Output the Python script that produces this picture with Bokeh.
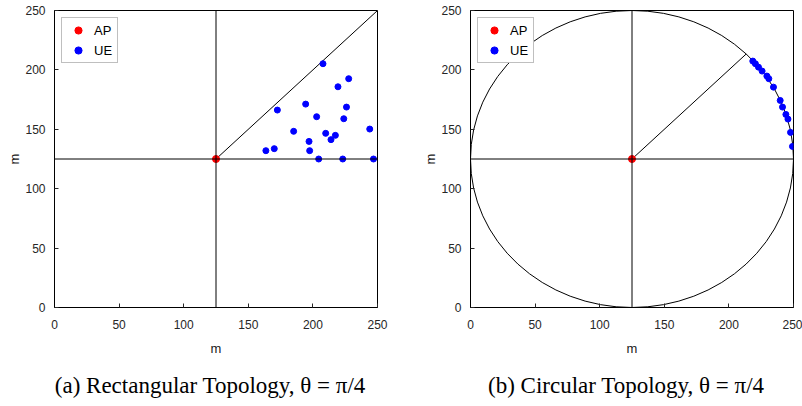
import math
from bokeh.plotting import figure
from bokeh.layouts import row
from bokeh.models import Span, Title, Legend, LegendItem, FixedTicker, Range1d
from bokeh.embed import file_html
from bokeh.resources import INLINE

# ---- data ----
ap_x = [125]
ap_y = [125]

rect_ue_x = [207.8, 227.7, 219.4, 172.5, 194.4, 226.0, 202.9, 223.9, 185.1, 244.0,
             209.9, 217.4, 214.0, 197.0, 163.6, 170.1, 197.5, 204.5, 223.1, 246.9]
rect_ue_y = [205.2, 192.6, 185.8, 166.2, 171.2, 168.7, 160.6, 158.9, 148.3, 150.2,
             146.6, 144.9, 141.3, 139.8, 132.0, 133.7, 132.0, 125.0, 125.0, 125.0]

circ_ue_x = [218.5, 220.5, 222.9, 225.7, 229.4, 230.9, 234.5, 239.7, 241.5, 244.1, 245.7, 247.7, 249.2]
circ_ue_y = [207.4, 205.2, 202.3, 199.0, 194.8, 192.6, 185.5, 174.3, 168.7, 162.5, 158.6, 147.4, 135.6]

area_size = 250
radius = 125
theta = math.pi / 4
ticks = [0, 50, 100, 150, 200, 250]
captions = ["(a) Rectangular Topology, \u03b8  =  \u03c0/4", "(b) Circular Topology, \u03b8  =  \u03c0/4"]

TICK_FONT = "Liberation Sans"


def style(p):
    p.grid.visible = False
    p.outline_line_color = "black"
    p.outline_line_width = 1
    for ax in p.axis:
        ax.ticker = FixedTicker(ticks=ticks)
        ax.major_tick_in = 4
        ax.major_tick_out = 0
        ax.minor_tick_line_color = None
        ax.axis_line_color = "black"
        ax.major_tick_line_color = "#262626"
        ax.major_label_text_font = TICK_FONT
        ax.major_label_text_font_size = "12px"
        ax.major_label_text_color = "#262626"
        ax.axis_label = "m"
        ax.axis_label_text_font = TICK_FONT
        ax.axis_label_text_font_size = "13px"
        ax.axis_label_text_font_style = "normal"
        ax.axis_label_text_color = "#202020"
    p.xaxis.major_label_standoff = 12
    p.yaxis.major_label_standoff = 9
    p.xaxis.axis_label_standoff = 9
    p.yaxis.axis_label_standoff = 0


def make(border_left, border_right, ue_x, ue_y, caption, circular):
    p = figure(frame_width=323, frame_height=297,
               x_range=Range1d(0, area_size), y_range=Range1d(0, area_size),
               output_backend="svg", toolbar_location=None,
               min_border_left=border_left, min_border_right=border_right,
               min_border_top=10, min_border_bottom=10)
    style(p)
    p.add_layout(Span(location=ap_x[0], dimension="height", line_color="black", line_width=1))
    p.add_layout(Span(location=ap_y[0], dimension="width", line_color="black", line_width=1))
    if circular:
        p.ellipse(x=ap_x, y=ap_y, width=2 * radius, height=2 * radius,
                  fill_color=None, line_color="black", line_width=1)
        ex = ap_x[0] + radius * math.cos(theta)
        ey = ap_y[0] + radius * math.sin(theta)
    else:
        ex = area_size
        ey = ap_y[0] + (area_size - ap_x[0]) * math.tan(theta)
    p.line(x=[ap_x[0], ex], y=[ap_y[0], ey], line_color="black", line_width=1)
    r_ue = p.scatter(x=ue_x, y=ue_y, size=6, color="blue")
    r_ap = p.scatter(x=ap_x, y=ap_y, size=7, color="red")
    leg = Legend(items=[LegendItem(label="AP", renderers=[r_ap]),
                        LegendItem(label="UE", renderers=[r_ue])],
                 location="top_left", label_text_font=TICK_FONT, label_text_font_size="13px",
                 label_text_color="black", border_line_color="#7f7f7f", border_line_width=1,
                 glyph_width=26, glyph_height=18, label_height=18, spacing=2, padding=3,
                 margin=7, label_standoff=3, background_fill_alpha=1)
    p.add_layout(leg)
    t = Title(text=caption, align="center", text_font="Liberation Serif",
              text_font_size="23px", text_font_style="normal", text_color="black",
              offset=0, standoff=24)
    p.add_layout(t, "below")
    return p


p1 = make(54, 24, rect_ue_x, rect_ue_y, captions[0], False)
p2 = make(69, 9, circ_ue_x, circ_ue_y, captions[1], True)
layout = row(p1, p2, spacing=0)
open("out.html", "w").write(file_html(layout, INLINE))
